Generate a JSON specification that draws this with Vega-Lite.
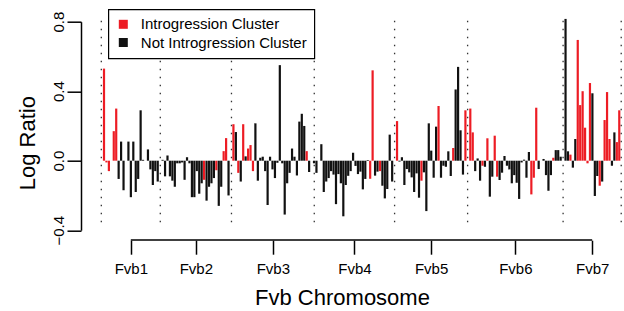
{
  "$schema": "https://vega.github.io/schema/vega-lite/v6.json",
  "width": 528,
  "height": 208.5,
  "autosize": {"type": "none"},
  "padding": {"left": 96, "top": 21.7, "right": 0, "bottom": 80.8},
  "background": "white",
  "config": {
    "view": {"stroke": null},
    "font": "Liberation Sans",
    "axisX": {
      "domain": false, "grid": false, "offset": 10,
      "tickSize": 14, "tickWidth": 1.5, "tickColor": "black",
      "labelFontSize": 15, "labelColor": "black", "labelPadding": 7, "labelFont": "Liberation Sans",
      "titleFontSize": 22, "titleFontWeight": "normal", "titleColor": "black", "titleFont": "Liberation Sans",
      "titleX": 246, "titleY": 57, "titleBaseline": "middle", "titleAlign": "center"
    },
    "axisY": {
      "domain": true, "domainWidth": 1.5, "domainColor": "black",
      "offset": 15, "tickSize": 14, "tickWidth": 1.5, "tickColor": "black", "grid": false,
      "labelAngle": -90, "labelAlign": "center", "labelBaseline": "alphabetic", "labelPadding": 3.5,
      "labelFontSize": 15, "labelColor": "black", "labelFont": "Liberation Sans",
      "titleFontSize": 22, "titleFontWeight": "normal", "titleColor": "black", "titleFont": "Liberation Sans",
      "titleX": -54, "titleY": 121, "titleAngle": -90, "titleAlign": "center", "titleBaseline": "middle"
    },
    "legend": {
      "orient": "none",
      "legendX": 12.3,
      "legendY": -12.4,
      "direction": "vertical",
      "symbolType": "square",
      "symbolSize": 81,
      "symbolStrokeWidth": 0,
      "labelFontSize": 15,
      "labelFont": "Liberation Sans",
      "labelColor": "black",
      "labelOffset": 10,
      "labelLimit": 0,
      "padding": 7.5,
      "rowPadding": 2.2,
      "strokeColor": "black",
      "strokeWidth": 1.2,
      "fillColor": "white",
      "cornerRadius": 0
    }
  },
  "datasets": {
    "bars": [
      {"x":0,"y":0.53,"g":"I"},{"x":1,"y":-0.01,"g":"I"},{"x":2,"y":-0.06,"g":"I"},{"x":4,"y":0.17,"g":"I"},{"x":5,"y":0.30,"g":"I"},
      {"x":6,"y":-0.105,"g":"N"},{"x":7,"y":0.11,"g":"N"},{"x":8,"y":-0.17,"g":"N"},{"x":10,"y":0.11,"g":"N"},{"x":11,"y":-0.21,"g":"N"},
      {"x":12,"y":0.11,"g":"N"},{"x":13,"y":-0.18,"g":"N"},{"x":14,"y":-0.105,"g":"N"},{"x":15,"y":0.29,"g":"N"},{"x":16,"y":0.005,"g":"N"},
      {"x":18,"y":0.065,"g":"N"},{"x":19,"y":-0.05,"g":"N"},{"x":20,"y":-0.14,"g":"N"},{"x":21,"y":-0.06,"g":"N"},{"x":22,"y":-0.12,"g":"N"},
      {"x":24,"y":0.005,"g":"N"},{"x":25,"y":-0.09,"g":"N"},{"x":26,"y":0.03,"g":"N"},{"x":27,"y":-0.09,"g":"N"},{"x":28,"y":-0.115,"g":"N"},
      {"x":29,"y":-0.15,"g":"N"},{"x":30,"y":-0.015,"g":"N"},{"x":31,"y":-0.015,"g":"N"},{"x":32,"y":-0.01,"g":"N"},{"x":33,"y":-0.11,"g":"N"},
      {"x":34,"y":0.02,"g":"N"},{"x":35,"y":-0.015,"g":"N"},{"x":36,"y":-0.21,"g":"N"},{"x":37,"y":-0.21,"g":"N"},{"x":38,"y":-0.06,"g":"N"},
      {"x":39,"y":-0.19,"g":"N"},{"x":40,"y":-0.13,"g":"N"},{"x":41,"y":-0.11,"g":"I"},{"x":42,"y":-0.23,"g":"N"},{"x":43,"y":-0.15,"g":"N"},
      {"x":44,"y":-0.13,"g":"N"},{"x":45,"y":-0.10,"g":"N"},{"x":46,"y":-0.055,"g":"I"},{"x":47,"y":-0.26,"g":"N"},{"x":48,"y":-0.15,"g":"N"},
      {"x":49,"y":0.055,"g":"I"},{"x":50,"y":0.13,"g":"I"},{"x":51,"y":-0.2,"g":"N"},
      {"x":53,"y":0.21,"g":"I"},{"x":54,"y":0.165,"g":"N"},{"x":55,"y":-0.07,"g":"I"},{"x":56,"y":-0.12,"g":"N"},{"x":57,"y":0.21,"g":"I"},
      {"x":58,"y":0.025,"g":"N"},{"x":59,"y":0.07,"g":"I"},{"x":60,"y":0.09,"g":"I"},{"x":61,"y":-0.06,"g":"I"},{"x":62,"y":0.215,"g":"N"},
      {"x":63,"y":-0.115,"g":"N"},{"x":64,"y":0.017,"g":"N"},{"x":65,"y":0.023,"g":"N"},{"x":66,"y":-0.06,"g":"N"},{"x":67,"y":-0.255,"g":"N"},
      {"x":68,"y":0.023,"g":"N"},{"x":69,"y":-0.05,"g":"N"},{"x":70,"y":-0.10,"g":"N"},{"x":71,"y":-0.012,"g":"N"},{"x":72,"y":0.55,"g":"N"},
      {"x":73,"y":-0.015,"g":"N"},{"x":74,"y":-0.31,"g":"N"},{"x":75,"y":-0.13,"g":"N"},{"x":76,"y":-0.07,"g":"N"},{"x":77,"y":0.07,"g":"N"},
      {"x":78,"y":0.023,"g":"N"},{"x":79,"y":-0.085,"g":"N"},{"x":80,"y":0.225,"g":"N"},{"x":81,"y":0.27,"g":"N"},{"x":82,"y":0.2,"g":"N"},
      {"x":83,"y":0.055,"g":"I"},{"x":84,"y":-0.065,"g":"N"},
      {"x":86,"y":-0.015,"g":"N"},{"x":87,"y":-0.07,"g":"N"},{"x":89,"y":0.095,"g":"N"},{"x":90,"y":-0.18,"g":"N"},{"x":91,"y":-0.12,"g":"N"},
      {"x":92,"y":-0.1,"g":"N"},{"x":93,"y":-0.06,"g":"N"},{"x":94,"y":-0.08,"g":"N"},{"x":95,"y":-0.25,"g":"N"},{"x":96,"y":-0.077,"g":"N"},
      {"x":97,"y":-0.13,"g":"N"},{"x":98,"y":-0.32,"g":"N"},{"x":99,"y":-0.14,"g":"N"},{"x":100,"y":-0.087,"g":"N"},{"x":101,"y":-0.06,"g":"N"},
      {"x":102,"y":0.046,"g":"N"},{"x":103,"y":-0.03,"g":"N"},{"x":104,"y":-0.077,"g":"N"},{"x":105,"y":-0.063,"g":"N"},{"x":106,"y":-0.165,"g":"N"},
      {"x":107,"y":-0.105,"g":"N"},{"x":108,"y":0.004,"g":"N"},{"x":109,"y":-0.104,"g":"I"},{"x":110,"y":0.52,"g":"I"},{"x":111,"y":-0.086,"g":"N"},
      {"x":112,"y":-0.063,"g":"N"},{"x":113,"y":-0.06,"g":"I"},{"x":114,"y":-0.144,"g":"N"},{"x":115,"y":-0.217,"g":"N"},{"x":116,"y":-0.163,"g":"N"},
      {"x":117,"y":0.15,"g":"N"},{"x":118,"y":-0.12,"g":"N"},
      {"x":120,"y":0.228,"g":"I"},{"x":121,"y":-0.005,"g":"N"},{"x":122,"y":0.02,"g":"N"},{"x":123,"y":-0.14,"g":"N"},{"x":124,"y":-0.048,"g":"N"},
      {"x":125,"y":-0.067,"g":"N"},{"x":126,"y":-0.096,"g":"N"},{"x":127,"y":-0.18,"g":"N"},{"x":128,"y":-0.073,"g":"N"},{"x":129,"y":-0.213,"g":"N"},
      {"x":130,"y":-0.115,"g":"I"},{"x":131,"y":-0.067,"g":"N"},{"x":132,"y":-0.29,"g":"N"},{"x":133,"y":0.215,"g":"N"},{"x":134,"y":0.058,"g":"N"},
      {"x":135,"y":-0.098,"g":"N"},{"x":136,"y":0.196,"g":"N"},{"x":137,"y":0.315,"g":"I"},{"x":138,"y":-0.098,"g":"N"},{"x":139,"y":-0.029,"g":"N"},
      {"x":140,"y":-0.035,"g":"N"},{"x":141,"y":0.054,"g":"N"},{"x":142,"y":-0.088,"g":"N"},{"x":143,"y":0.073,"g":"I"},{"x":144,"y":0.41,"g":"N"},
      {"x":145,"y":0.54,"g":"N"},{"x":146,"y":0.175,"g":"N"},{"x":147,"y":-0.08,"g":"N"},{"x":148,"y":0.29,"g":"I"},
      {"x":150,"y":0.30,"g":"I"},{"x":151,"y":0.163,"g":"I"},{"x":152,"y":-0.06,"g":"N"},{"x":153,"y":0.013,"g":"N"},{"x":154,"y":-0.115,"g":"N"},
      {"x":155,"y":-0.029,"g":"I"},{"x":156,"y":-0.035,"g":"N"},{"x":157,"y":0.129,"g":"I"},{"x":158,"y":-0.207,"g":"N"},{"x":159,"y":-0.092,"g":"N"},
      {"x":160,"y":0.144,"g":"I"},{"x":161,"y":-0.092,"g":"I"},{"x":162,"y":-0.111,"g":"N"},{"x":163,"y":-0.069,"g":"N"},{"x":164,"y":0.027,"g":"N"},
      {"x":165,"y":-0.029,"g":"N"},{"x":166,"y":-0.05,"g":"N"},{"x":167,"y":-0.13,"g":"N"},{"x":168,"y":-0.083,"g":"N"},{"x":169,"y":-0.127,"g":"N"},
      {"x":170,"y":-0.22,"g":"N"},{"x":171,"y":-0.01,"g":"N"},{"x":172,"y":0.006,"g":"N"},{"x":173,"y":-0.098,"g":"N"},{"x":174,"y":0.05,"g":"N"},
      {"x":175,"y":-0.194,"g":"I"},{"x":176,"y":-0.098,"g":"I"},{"x":177,"y":0.305,"g":"I"},{"x":178,"y":-0.048,"g":"N"},{"x":180,"y":0.01,"g":"N"},
      {"x":181,"y":-0.083,"g":"N"},{"x":182,"y":-0.173,"g":"N"},{"x":183,"y":-0.083,"g":"N"},{"x":184,"y":0.017,"g":"I"},{"x":185,"y":0.061,"g":"N"},
      {"x":186,"y":0.061,"g":"N"},{"x":187,"y":0.023,"g":"N"},
      {"x":189,"y":0.816,"g":"N"},{"x":190,"y":0.054,"g":"N"},{"x":191,"y":0.035,"g":"I"},{"x":192,"y":-0.04,"g":"N"},{"x":193,"y":0.125,"g":"N"},
      {"x":194,"y":0.695,"g":"I"},{"x":195,"y":0.32,"g":"I"},{"x":196,"y":0.40,"g":"I"},{"x":197,"y":0.19,"g":"I"},{"x":198,"y":-0.015,"g":"I"},
      {"x":199,"y":0.447,"g":"I"},{"x":200,"y":0.388,"g":"N"},{"x":201,"y":-0.203,"g":"N"},{"x":202,"y":-0.088,"g":"N"},{"x":203,"y":-0.144,"g":"I"},
      {"x":204,"y":-0.12,"g":"N"},{"x":205,"y":0.234,"g":"I"},{"x":206,"y":0.395,"g":"I"},{"x":207,"y":0.125,"g":"I"},{"x":208,"y":-0.029,"g":"N"},
      {"x":209,"y":0.163,"g":"N"},{"x":210,"y":0.107,"g":"I"},{"x":211,"y":0.29,"g":"I"}
    ],
    "seps": [
      {"x":-1.1},{"x":23.05},{"x":52.2},{"x":86.1},{"x":119.0},{"x":148.9},{"x":188.0},{"x":211.8}
    ],
    "xline": [{"x":10.98,"x2":199.9}]
  },
  "layer": [
    {
      "data": {"name": "seps"},
      "mark": {"type": "rule", "strokeDash": [1.5, 6.5], "strokeWidth": 1.3, "color": "#333333"},
      "encoding": {
        "x": {"field": "x", "type": "quantitative", "scale": {"domain": [-3.276, 212.94], "nice": false, "zero": false, "padding": 0}, "title": "Fvb Chromosome",
          "axis": {"values": [10.98, 37.6, 69.15, 102.55, 133.95, 168.45, 199.9],
            "labelExpr": "datum.value < 20 ? 'Fvb1' : datum.value < 50 ? 'Fvb2' : datum.value < 80 ? 'Fvb3' : datum.value < 110 ? 'Fvb4' : datum.value < 150 ? 'Fvb5' : datum.value < 180 ? 'Fvb6' : 'Fvb7'"}},
        "y": {"datum": 0.806, "type": "quantitative", "scale": {"domain": [-0.4, 0.8], "nice": false, "zero": false}, "title": "Log Ratio",
          "axis": {"values": [-0.4, 0, 0.4, 0.8], "format": ".1f"}},
        "y2": {"datum": -0.384}
      }
    },
    {
      "data": {"name": "bars"},
      "mark": {"type": "bar", "width": 2.2},
      "encoding": {
        "x": {"field": "x", "type": "quantitative", "scale": {"domain": [-3.276, 212.94], "nice": false, "zero": false, "padding": 0}, "title": "Fvb Chromosome",
          "axis": {"values": [10.98, 37.6, 69.15, 102.55, 133.95, 168.45, 199.9],
            "labelExpr": "datum.value < 20 ? 'Fvb1' : datum.value < 50 ? 'Fvb2' : datum.value < 80 ? 'Fvb3' : datum.value < 110 ? 'Fvb4' : datum.value < 150 ? 'Fvb5' : datum.value < 180 ? 'Fvb6' : 'Fvb7'"}},
        "y": {"field": "y", "type": "quantitative", "scale": {"domain": [-0.4, 0.8], "nice": false, "zero": false}, "title": "Log Ratio",
          "axis": {"values": [-0.4, 0, 0.4, 0.8], "format": ".1f"}},
        "y2": {"datum": 0},
        "color": {
          "field": "g", "type": "nominal",
          "scale": {"domain": ["I", "N"], "range": ["#ED1C24", "#111111"]},
          "legend": {"title": null, "labelExpr": "datum.label == 'I' ? 'Introgression Cluster' : 'Not Introgression Cluster'"}
        }
      }
    },
    {
      "data": {"name": "xline"},
      "mark": {"type": "rule", "strokeWidth": 1.5, "color": "black"},
      "encoding": {
        "x": {"field": "x", "type": "quantitative", "scale": {"domain": [-3.276, 212.94], "nice": false, "zero": false, "padding": 0}, "title": "Fvb Chromosome",
          "axis": {"values": [10.98, 37.6, 69.15, 102.55, 133.95, 168.45, 199.9],
            "labelExpr": "datum.value < 20 ? 'Fvb1' : datum.value < 50 ? 'Fvb2' : datum.value < 80 ? 'Fvb3' : datum.value < 110 ? 'Fvb4' : datum.value < 150 ? 'Fvb5' : datum.value < 180 ? 'Fvb6' : 'Fvb7'"}},
        "x2": {"field": "x2"},
        "y": {"datum": -0.4564, "type": "quantitative", "scale": {"domain": [-0.4, 0.8], "nice": false, "zero": false}, "title": "Log Ratio",
          "axis": {"values": [-0.4, 0, 0.4, 0.8], "format": ".1f"}}
      }
    }
  ]
}
